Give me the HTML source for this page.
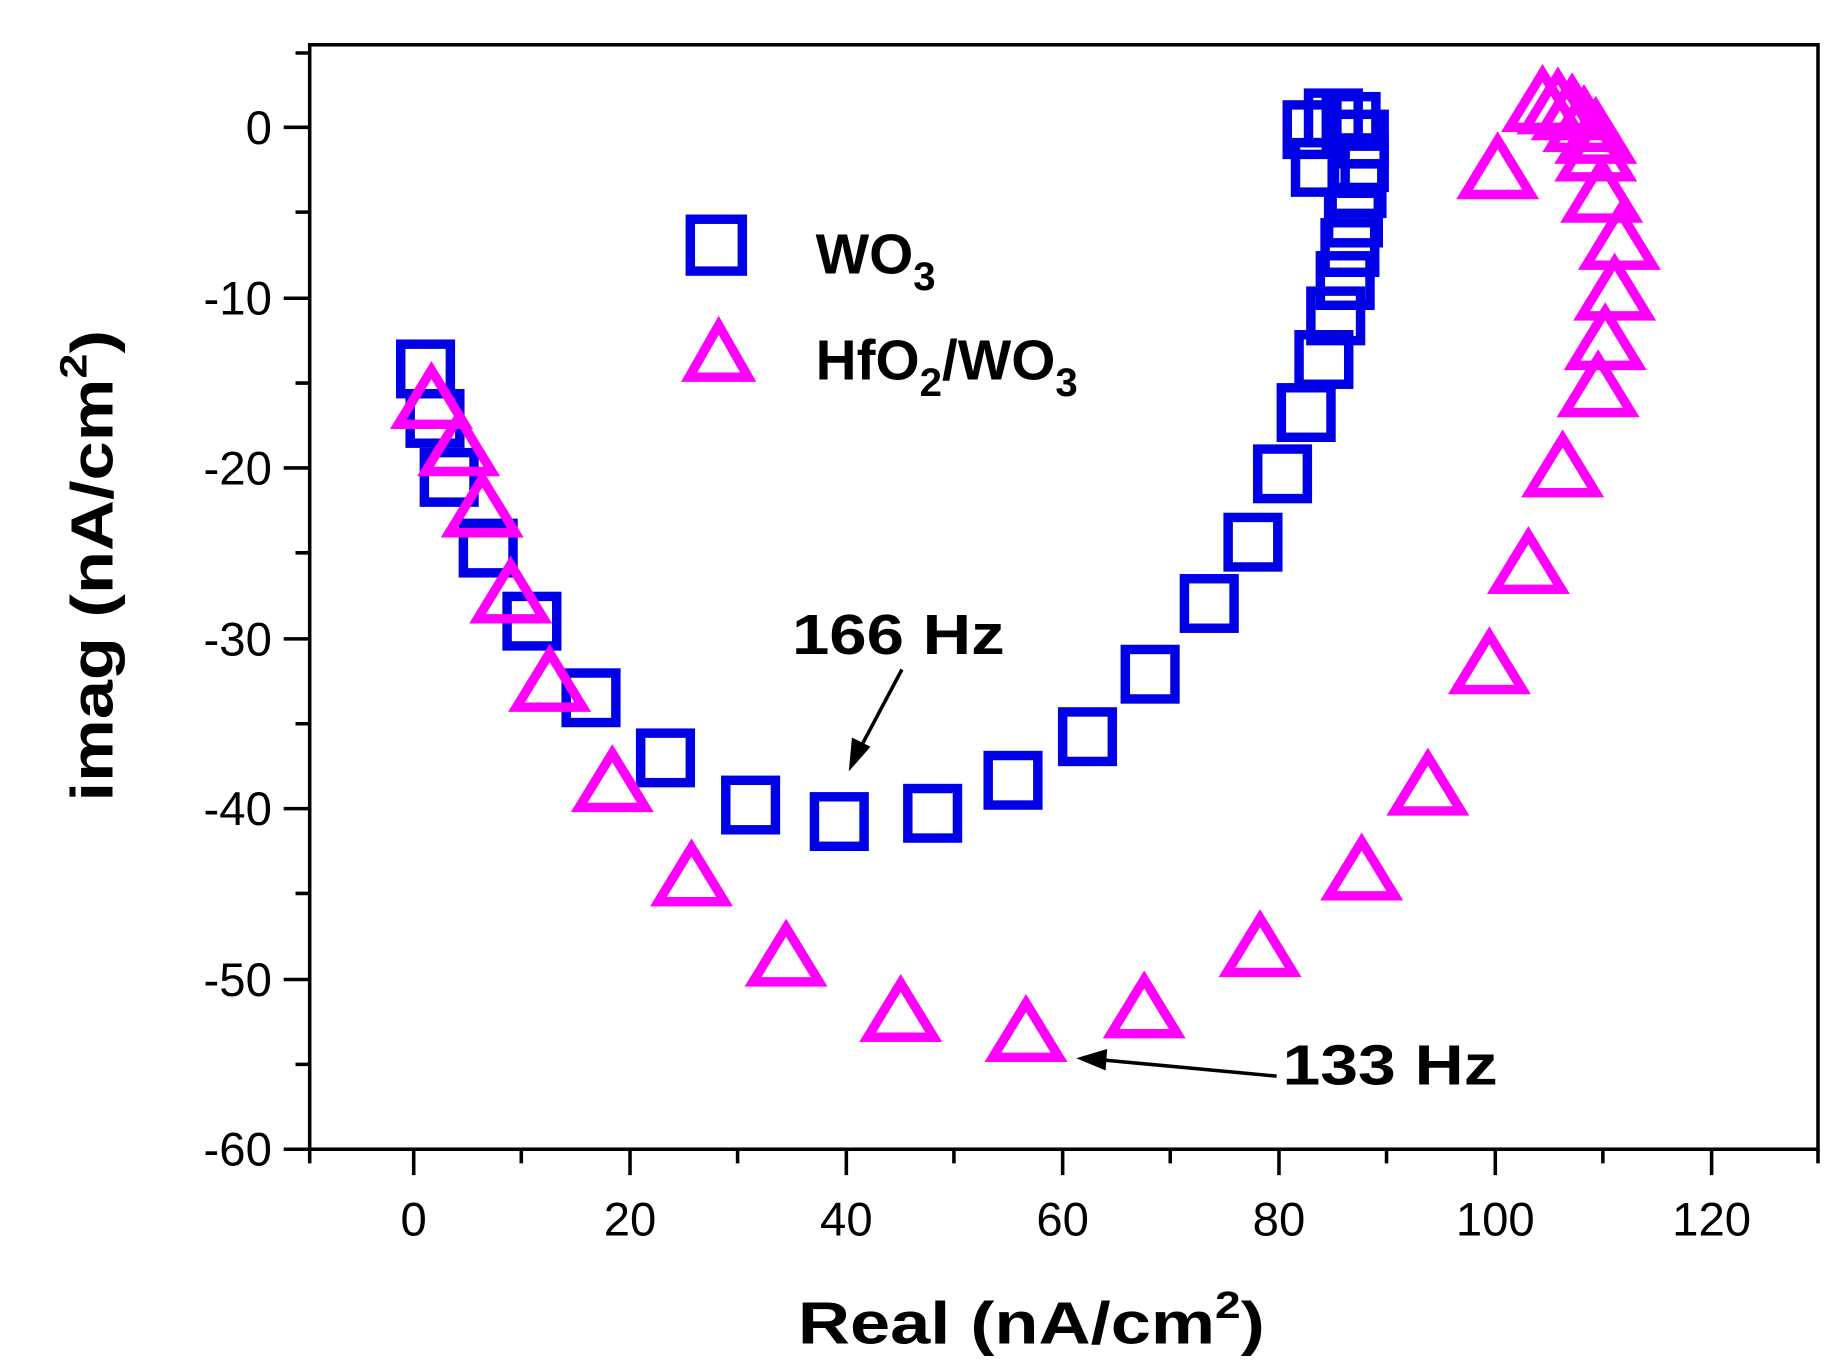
<!DOCTYPE html>
<html><head><meta charset="utf-8"><style>html,body{margin:0;padding:0;background:#fff}svg{display:block}</style></head>
<body>
<svg width="1844" height="1372" viewBox="0 0 1560 1164" preserveAspectRatio="none" xmlns="http://www.w3.org/2000/svg" font-family="Liberation Sans, Arial, sans-serif">
<rect width="1560" height="1164" fill="#fff"/>
<g stroke="#000" stroke-width="3" fill="none">
<rect x="262" y="38" width="1276" height="937"/>
<path d="M240 108H262M240 253H262M240 397H262M240 542H262M240 686H262M240 831H262M240 975H262"/>
<path d="M250 180H262M250 325H262M250 469H262M250 614H262M250 758H262M250 903H262M250 45H262"/>
<path d="M350 975V997M533 975V997M716 975V997M899 975V997M1082 975V997M1265 975V997M1448 975V997"/>
<path d="M262 975V987M441 975V987M624 975V987M807 975V987M990 975V987M1173 975V987M1356 975V987M1538 975V987"/>
</g>
<g font-size="40" fill="#000" text-anchor="end">
<text x="230" y="122">0</text><text x="230" y="267">-10</text><text x="230" y="411">-20</text><text x="230" y="556">-30</text><text x="230" y="700">-40</text><text x="230" y="845">-50</text><text x="230" y="989">-60</text>
</g>
<g font-size="40" fill="#000" text-anchor="middle">
<text x="350" y="1048">0</text><text x="533" y="1048">20</text><text x="716" y="1048">40</text><text x="899" y="1048">60</text><text x="1082" y="1048">80</text><text x="1265" y="1048">100</text><text x="1448" y="1048">120</text>
</g>
<text x="675" y="1140" font-size="50" font-weight="bold" textLength="395" lengthAdjust="spacingAndGlyphs">Real  (nA/cm<tspan font-size="32" dy="-22">2</tspan><tspan dy="22">)</tspan></text>
<text transform="translate(95,480) rotate(-90)" text-anchor="middle" font-size="50" font-weight="bold" textLength="400" lengthAdjust="spacingAndGlyphs">imag (nA/cm<tspan font-size="32" dy="-22">2</tspan><tspan dy="22">)</tspan></text>
<rect x="584" y="186" width="44" height="44" fill="none" stroke="#0000e6" stroke-width="8"/>
<g id="sq" fill="none" stroke="#0000e6" stroke-width="8"></g>
<g id="tr" fill="none" stroke="#ff00ff" stroke-width="8"></g>
<path d="M608 276 L633 320 L583 320 Z" fill="none" stroke="#ff00ff" stroke-width="8"/>
<text x="690" y="232" font-size="48" font-weight="bold">WO<tspan font-size="34" dy="14">3</tspan></text>
<text x="690" y="322" font-size="48" font-weight="bold">HfO<tspan font-size="34" dy="14">2</tspan><tspan dy="-14">/WO</tspan><tspan font-size="34" dy="14">3</tspan></text>
<text x="670" y="555" font-size="48" font-weight="bold" textLength="180" lengthAdjust="spacingAndGlyphs">166 Hz</text>
<text x="1085" y="920" font-size="48" font-weight="bold" textLength="182" lengthAdjust="spacingAndGlyphs">133 Hz</text>
<g stroke="#000" stroke-width="3" fill="#000">
<line x1="763" y1="568" x2="727" y2="636"/><path d="M720 650 L722 628 L734 634 Z"/>
<line x1="1080" y1="913" x2="930" y2="899"/><path d="M915 898 L935 892 L934 906 Z"/>
</g>
<script>
var sq=[[360,313],[368,355],[380,405],[413,465],[450,527],[500,592],[563,643],[635,683],[710,697],[789,690],[857,662],[920,625],[973,572],[1023,512],[1060,460],[1085,402],[1105,350],[1120,305],[1130,268],[1138,238],[1142,210],[1145,185],[1148,160],[1150,138],[1150,118],[1143,103],[1128,100],[1110,110],[1117,142]];
var tr=[[365,340],[388,380],[408,432],[432,505],[465,580],[518,665],[585,745],[665,813],[762,860],[868,877],[968,857],[1066,805],[1152,740],[1208,668],[1260,565],[1293,480],[1322,398],[1352,330],[1358,290],[1366,248],[1370,205],[1355,165],[1350,130],[1350,115],[1340,105],[1330,95],[1318,90],[1305,88],[1267,145]];
var ns="http://www.w3.org/2000/svg",g1=document.getElementById("sq"),g2=document.getElementById("tr");
sq.forEach(function(p){var r=document.createElementNS(ns,"rect");r.setAttribute("x",p[0]-21);r.setAttribute("y",p[1]-21);r.setAttribute("width",42);r.setAttribute("height",42);g1.appendChild(r);});
tr.forEach(function(p){var r=document.createElementNS(ns,"path");r.setAttribute("d","M"+p[0]+" "+(p[1]-26)+"L"+(p[0]+28)+" "+(p[1]+20)+"L"+(p[0]-28)+" "+(p[1]+20)+"Z");g2.appendChild(r);});
</script>
</svg>
</body></html>
